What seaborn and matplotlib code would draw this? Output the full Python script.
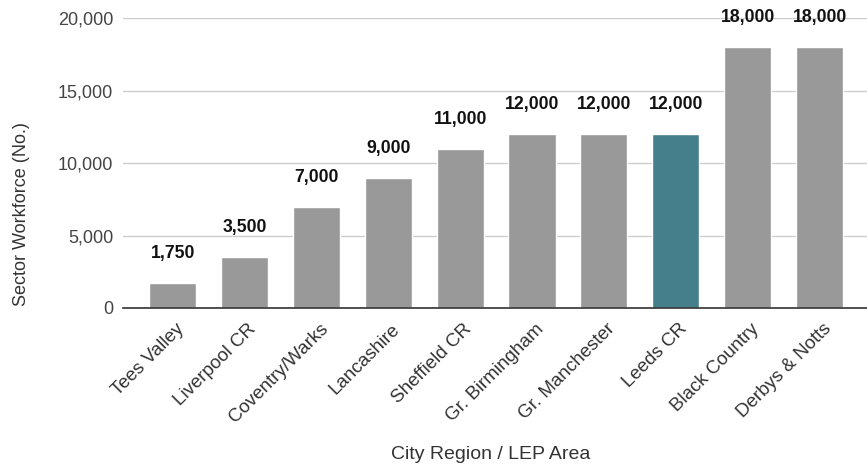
import matplotlib
matplotlib.use("Agg")
import matplotlib.pyplot as plt
import matplotlib.transforms as mtransforms
import seaborn as sns
import pandas as pd

categories = ["Tees Valley", "Liverpool CR", "Coventry/Warks", "Lancashire", "Sheffield CR",
              "Gr. Birmingham", "Gr. Manchester", "Leeds CR", "Black Country", "Derbys & Notts"]
values = [1750, 3500, 7000, 9000, 11000, 12000, 12000, 12000, 18000, 18000]
highlight = "Leeds CR"
y_ticks = [0, 5000, 10000, 15000, 20000]

GREY = "#999999"
TEAL = "#457f8c"

sns.set_theme(style="white")
plt.rcParams["font.family"] = ["Liberation Sans", "DejaVu Sans"]

df = pd.DataFrame({"area": categories, "workforce": values})
palette = {c: (TEAL if c == highlight else GREY) for c in categories}

fig = plt.figure(figsize=(8.67, 4.66), dpi=100)
ax_left, ax_bottom_px, ax_top_px = 123, 308, 18.3
ax = fig.add_axes([ax_left / 867, 1 - ax_bottom_px / 466, 1 - ax_left / 867,
                   (ax_bottom_px - ax_top_px) / 466])
ax_w = 867 - ax_left
ax_h = ax_bottom_px - ax_top_px

sns.barplot(data=df, x="area", y="workforce", hue="area", palette=palette,
            legend=False, width=0.655, ax=ax, saturation=1)

ax.set_ylim(0, 20000)
ax.set_xlim(-0.69, 9.66)
ax.set_yticks(y_ticks)
ax.set_yticklabels([f"{v:,}" for v in y_ticks], fontsize=13, color="#444444")
ax.yaxis.grid(True, color="#cccccc", linewidth=1)
ax.set_axisbelow(True)
for s in ["top", "right", "left"]:
    ax.spines[s].set_visible(False)
ax.spines["bottom"].set_color("#333333")
ax.spines["bottom"].set_linewidth(1.2)
ax.spines["bottom"].set_zorder(5)
ax.tick_params(axis="both", length=0)
ax.tick_params(axis="y", pad=7)

ax.set_xticks(range(len(categories)))
ax.set_xticklabels(categories, rotation=45, ha="right", fontsize=13.5, color="#333333")
ax.tick_params(axis="x", pad=9)
offset = mtransforms.ScaledTranslation(15 / 100, 0, fig.dpi_scale_trans)
for lbl in ax.get_xticklabels():
    lbl.set_transform(lbl.get_transform() + offset)

for container in ax.containers:
    ax.bar_label(container, labels=[f"{v:,.0f}" for v in container.datavalues],
                 padding=15, fontsize=12.7, fontweight="bold", color="#111111")

ax.set_ylabel("Sector Workforce (No.)", fontsize=13, color="#333333")
ax.yaxis.set_label_coords((30 - ax_left) / ax_w, (ax_bottom_px - 214) / ax_h)
ax.set_xlabel("City Region / LEP Area", fontsize=14, color="#333333")
ax.xaxis.set_label_coords(((390 + 592) / 2 - ax_left) / ax_w, -(446 - ax_bottom_px) / ax_h)

fig.savefig("out.png", dpi=100)
